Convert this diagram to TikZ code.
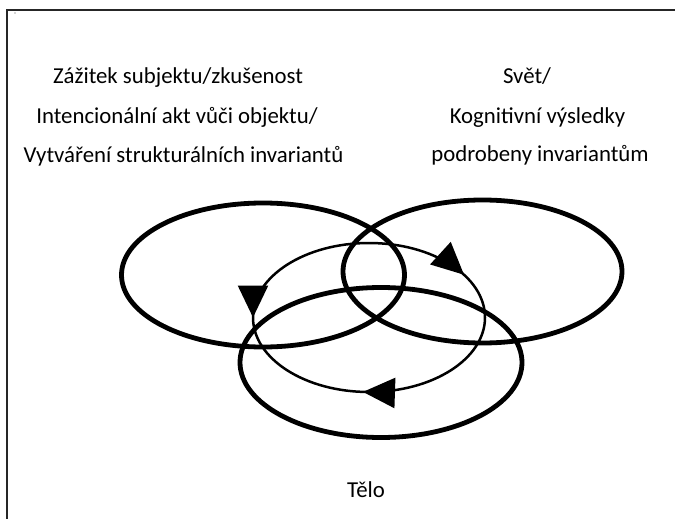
\documentclass[tikz,border=0pt]{standalone}
\usepackage{fontspec}
\setmainfont{Carlito}
\usetikzlibrary{decorations.markings,arrows.meta}
\tikzset{
  thickring/.style={line width=4.8pt},
  thinring/.style={line width=2.5pt},
  framestyle/.style={line width=1.8pt, draw=black!85},
  lbl/.style={font=\fontsize{22.8}{27}\selectfont, anchor=base, inner sep=0pt},
  tipshape/.tip={Triangle[length=32pt,width=30pt]},
  cycarrows/.style={postaction={decorate}, decoration={markings,
    mark=at position 0.26 with {\arrow{tipshape}},
    mark=at position 0.5 with {\arrowreversed{tipshape}},
    mark=at position 0.919 with {\arrow{tipshape}}}}
}
\begin{document}
\begin{tikzpicture}[x=1pt,y=1pt]
\useasboundingbox (0,0) rectangle (675,-519);
\fill[white] (0,0) rectangle (675,-519);
% frame (only left and top edges visible)
\draw[framestyle] (6.7,-519) -- (6.7,-10) -- (675,-10);
\fill[black!70] (15,-13) circle (0.6);
% texts
\node[lbl] (l1) at (178,-84) {Zážitek subjektu/zkušenost};
\node[lbl] (l2) at (177,-123) {Intencionální akt vůči objektu/};
\node[lbl] (l3) at (183.5,-162) {Vytváření strukturálních invariantů};
\node[lbl] (r1) at (527,-84) {Svět/};
\node[lbl] (r2) at (537.5,-123) {Kognitivní výsledky};
\node[lbl] (r3) at (540,-161) {podrobeny invariantům};
\node[lbl] (body) at (366,-497) {Tělo};
% rings
\draw[thickring] (263,-275) ellipse [x radius=141.5, y radius=72];
\draw[thickring] (482.5,-271.5) ellipse [x radius=139.5, y radius=71.5];
\draw[thickring] (381,-362.5) ellipse [x radius=141, y radius=75];
% cycle with arrows
\draw[thinring, cycarrows] (485,-317.5) arc[start angle=0, end angle=-360, x radius=116, y radius=74.5];
\end{tikzpicture}
\end{document}
